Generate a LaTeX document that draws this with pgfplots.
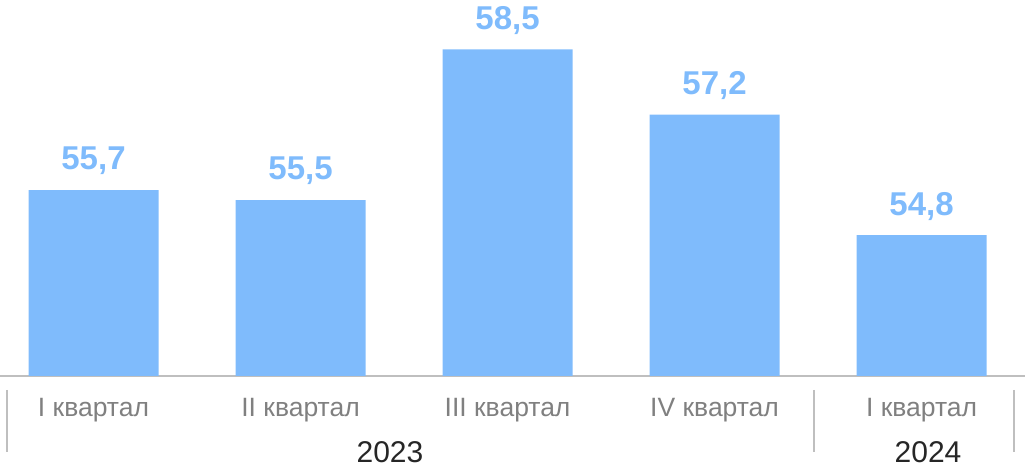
\documentclass[border=0pt]{standalone}
\usepackage{pgfplots}
\pgfplotsset{compat=1.18}
\usepackage{fontspec}
\setmainfont{Liberation Sans}
\definecolor{barblue}{HTML}{7FBBFC}
\definecolor{lblgray}{HTML}{808080}
\definecolor{axgray}{HTML}{BFBFBF}
\definecolor{yeartxt}{HTML}{262626}
\begin{document}
\begin{tikzpicture}[x=1pt,y=1pt]
\path[use as bounding box] (0,0) rectangle (1025,470);
\begin{axis}[
  at={(0pt,94pt)}, anchor=south west,
  scale only axis, width=1025pt, height=376pt,
  xmin=-0.4517, xmax=4.5, ymin=52, ymax=59.48,
  axis x line*=bottom, axis y line=none,
  x axis line style={draw=axgray, line width=2pt, -},
  xtick={0,1,2,3,4}, major tick length=0pt,
  xticklabels={I квартал, II квартал, III квартал, IV квартал, I квартал},
  xticklabel style={font=\fontsize{26.5}{30}\selectfont, text=lblgray, anchor=center, yshift=-34pt},
  ytick=\empty,
  clip=false,
  nodes near coords,
  /pgf/number format/.cd, use comma, fixed, fixed zerofill, precision=1, assume math mode=true,
  /pgfplots/.cd,
  every node near coord/.append style={font=\bfseries\fontsize{33}{38}\selectfont, text=barblue, anchor=center, yshift=29pt},
]
\addplot[ybar, bar width=130pt, fill=barblue, draw=none] coordinates {(0,55.7) (1,55.5) (2,58.5) (3,57.2) (4,54.8)};
\end{axis}
\foreach \xx in {7,814,1014} {\draw[axgray, line width=2pt] (\xx,80) -- (\xx,18);}
\node[font=\fontsize{30}{34}\selectfont, text=yeartxt, inner sep=0pt, anchor=base] at (390,7) {2023};
\node[font=\fontsize{30}{34}\selectfont, text=yeartxt, inner sep=0pt, anchor=base] at (928,7) {2024};
\end{tikzpicture}
\end{document}
